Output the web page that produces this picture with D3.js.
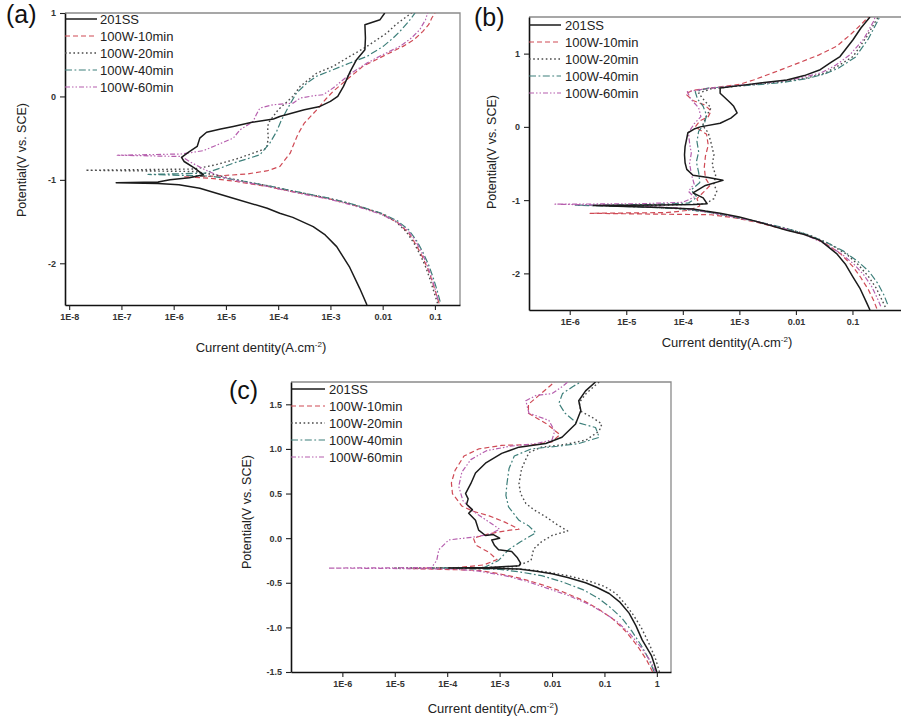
<!DOCTYPE html>
<html>
<head>
<meta charset="utf-8">
<script src="https://cdn.jsdelivr.net/npm/d3@7/dist/d3.min.js"></script>
<style>
  html, body { margin: 0; padding: 0; background: #fff; }
  svg { display: block; font-family: "Liberation Sans", Arial, sans-serif; }
</style>
</head>
<body>
<svg id="fig" width="901" height="719"></svg>
<script>
// Polarization curves, 3 panels. Points are [log10(current density A/cm2), potential V vs SCE],
// listed cathodic end -> corrosion spike -> anodic end.
const seriesNames = ["201SS", "100W-10min", "100W-20min", "100W-40min", "100W-60min"];

// ---- panel (a)
const a201 = [[-2.30,-2.50],[-2.44,-2.30],[-2.63,-2.05],[-2.88,-1.80],[-3.10,-1.66],[-3.33,-1.56],[-3.72,-1.45],[-3.97,-1.40],[-4.21,-1.34],[-4.86,-1.22],[-5.5,-1.10],[-5.9,-1.06],[-6.3,-1.045],
  [-7.10,-1.035],
  [-6.3,-1.025],[-6.07,-1.0],[-5.7,-0.975],[-5.43,-0.94],[-5.60,-0.86],[-5.80,-0.78],[-5.85,-0.73],[-5.72,-0.67],[-5.55,-0.60],[-5.50,-0.50],[-5.37,-0.43],[-5.1,-0.39],[-4.86,-0.36],[-4.5,-0.31],[-4.09,-0.27],[-3.97,-0.24],[-3.5,-0.16],[-3.2,-0.12],[-3.0,-0.06],[-2.86,0.0],[-2.75,0.12],[-2.62,0.30],[-2.50,0.44],[-2.34,0.56],[-2.33,0.70],[-2.34,0.86],[-2.05,0.92],[-1.96,1.0]];
const a10 = [[-0.92,-2.48],[-0.98,-2.36],[-1.06,-2.20],[-1.14,-2.06],[-1.24,-1.92],[-1.36,-1.78],[-1.50,-1.64],[-1.70,-1.52],[-2.0,-1.41],[-2.3,-1.35],[-2.63,-1.29],[-3.0,-1.23],[-3.58,-1.16],[-4.2,-1.08],[-4.8,-1.02],[-5.3,-0.98],
  [-5.8,-0.965],
  [-5.2,-0.955],[-4.6,-0.93],[-4.2,-0.89],[-3.97,-0.84],[-3.77,-0.68],[-3.72,-0.60],[-3.62,-0.45],[-3.50,-0.32],[-3.26,-0.16],[-3.10,-0.04],[-2.95,0.06],[-2.65,0.22],[-2.38,0.36],[-2.0,0.48],[-1.61,0.60],[-1.40,0.68],[-1.23,0.78],[-1.12,0.86],[-1.06,0.94],[-1.0,1.0]];
const a20 = [[-0.95,-2.48],[-1.02,-2.34],[-1.10,-2.18],[-1.18,-2.04],[-1.28,-1.90],[-1.40,-1.76],[-1.55,-1.62],[-1.75,-1.50],[-2.05,-1.40],[-2.35,-1.34],[-2.65,-1.28],[-3.05,-1.22],[-3.6,-1.15],[-4.2,-1.07],[-4.8,-1.00],[-5.2,-0.94],[-5.6,-0.90],
  [-7.69,-0.885],
  [-5.6,-0.87],[-5.2,-0.82],[-4.8,-0.75],[-4.48,-0.68],[-4.22,-0.62],[-4.19,-0.50],[-4.20,-0.40],[-4.19,-0.32],[-4.0,-0.16],[-3.72,0.0],[-3.58,0.12],[-3.26,0.28],[-2.95,0.36],[-2.63,0.48],[-2.30,0.60],[-1.92,0.76],[-1.75,0.86],[-1.45,1.0]];
const a40 = [[-0.90,-2.46],[-0.96,-2.32],[-1.04,-2.16],[-1.12,-2.02],[-1.22,-1.88],[-1.34,-1.74],[-1.50,-1.60],[-1.72,-1.49],[-2.02,-1.40],[-2.32,-1.34],[-2.64,-1.28],[-3.02,-1.22],[-3.58,-1.15],[-4.2,-1.07],[-4.8,-1.00],[-5.3,-0.955],
  [-6.49,-0.935],
  [-5.4,-0.92],[-5.11,-0.86],[-4.86,-0.80],[-4.35,-0.70],[-4.16,-0.56],[-4.03,-0.42],[-3.95,-0.30],[-3.85,-0.18],[-3.78,-0.10],[-3.65,0.04],[-3.45,0.16],[-3.27,0.24],[-2.95,0.32],[-2.63,0.40],[-2.30,0.48],[-1.99,0.60],[-1.80,0.70],[-1.67,0.78],[-1.50,0.90],[-1.38,1.0]];
const a60 = [[-0.94,-2.44],[-1.00,-2.30],[-1.08,-2.14],[-1.16,-2.0],[-1.26,-1.86],[-1.38,-1.72],[-1.53,-1.60],[-1.74,-1.50],[-2.04,-1.41],[-2.34,-1.35],[-2.66,-1.29],[-3.04,-1.23],[-3.6,-1.16],[-4.2,-1.08],[-4.8,-1.01],[-5.1,-0.96],[-5.4,-0.88],[-5.7,-0.78],[-5.85,-0.72],
  [-7.08,-0.705],
  [-5.85,-0.69],[-5.43,-0.65],[-5.24,-0.60],[-4.86,-0.50],[-4.73,-0.40],[-4.48,-0.30],[-4.42,-0.22],[-4.35,-0.14],[-4.10,-0.10],[-3.71,-0.08],[-3.58,-0.02],[-3.3,0.01],[-3.14,0.02],[-2.95,0.10],[-2.60,0.28],[-2.30,0.40],[-2.0,0.50],[-1.67,0.60],[-1.45,0.70],[-1.29,0.80],[-1.18,0.92],[-1.14,1.0]];

// ---- panel (b)
const b201 = [[-0.69,-2.50],[-0.75,-2.40],[-0.87,-2.20],[-0.99,-2.05],[-1.12,-1.88],[-1.28,-1.73],[-1.57,-1.55],[-1.85,-1.47],[-2.16,-1.41],[-2.75,-1.28],[-3.0,-1.23],[-3.34,-1.18],[-3.6,-1.15],[-3.82,-1.12],[-4.4,-1.10],[-5.16,-1.085],
  [-5.58,-1.075],
  [-5.0,-1.07],[-4.4,-1.065],[-3.8,-1.06],[-3.57,-1.05],[-3.64,-0.97],[-3.82,-0.90],[-3.6,-0.80],[-3.29,-0.73],[-3.55,-0.69],[-3.82,-0.66],[-3.93,-0.58],[-3.96,-0.49],[-3.97,-0.38],[-3.96,-0.27],[-3.91,-0.08],[-3.80,-0.03],[-3.69,0.0],[-3.34,0.05],[-3.15,0.12],[-3.04,0.19],[-3.10,0.28],[-3.16,0.33],[-3.34,0.46],[-3.34,0.53],[-2.93,0.57],[-2.63,0.60],[-2.16,0.64],[-1.85,0.70],[-1.57,0.78],[-1.38,0.88],[-1.22,0.96],[-0.99,1.19],[-0.85,1.35],[-0.69,1.5]];
const b10 = [[-0.57,-2.48],[-0.62,-2.38],[-0.72,-2.22],[-0.85,-2.06],[-1.0,-1.90],[-1.2,-1.74],[-1.5,-1.58],[-1.8,-1.48],[-2.2,-1.40],[-2.7,-1.30],[-3.1,-1.24],[-3.5,-1.20],
  [-5.64,-1.18],
  [-4.3,-1.17],[-3.9,-1.14],[-3.7,-1.08],[-3.75,-0.98],[-3.62,-0.88],[-3.52,-0.80],[-3.6,-0.70],[-3.62,-0.55],[-3.6,-0.40],[-3.55,-0.25],[-3.58,-0.10],[-3.78,0.0],[-3.70,0.08],[-3.55,0.14],[-3.50,0.22],[-3.62,0.30],[-3.82,0.36],[-3.95,0.45],[-3.82,0.50],[-3.4,0.54],[-3.0,0.58],[-2.75,0.64],[-2.4,0.74],[-1.93,0.88],[-1.6,0.98],[-1.28,1.10],[-1.05,1.25],[-0.87,1.38],[-0.72,1.5]];
const b20 = [[-0.42,-2.46],[-0.48,-2.36],[-0.58,-2.20],[-0.72,-2.04],[-0.9,-1.88],[-1.1,-1.74],[-1.4,-1.60],[-1.75,-1.48],[-2.2,-1.38],[-2.7,-1.29],[-3.1,-1.23],[-3.5,-1.17],[-4.0,-1.12],[-4.6,-1.09],
  [-5.3,-1.08],
  [-4.4,-1.07],[-3.6,-1.05],[-3.45,-0.98],[-3.40,-0.88],[-3.45,-0.78],[-3.42,-0.66],[-3.48,-0.52],[-3.45,-0.38],[-3.5,-0.22],[-3.55,-0.08],[-3.65,0.02],[-3.58,0.15],[-3.5,0.26],[-3.62,0.36],[-3.72,0.46],[-3.5,0.52],[-3.0,0.56],[-2.6,0.59],[-2.2,0.62],[-1.8,0.67],[-1.5,0.73],[-1.28,0.82],[-0.99,0.96],[-0.75,1.23],[-0.57,1.47],[-0.54,1.5]];
const b40 = [[-0.38,-2.42],[-0.44,-2.30],[-0.55,-2.14],[-0.70,-1.98],[-0.9,-1.84],[-1.15,-1.70],[-1.45,-1.58],[-1.8,-1.47],[-2.2,-1.38],[-2.7,-1.29],[-3.1,-1.23],[-3.5,-1.17],[-4.0,-1.12],[-4.8,-1.09],
  [-5.9,-1.07],
  [-4.6,-1.06],[-3.9,-1.04],[-3.75,-0.96],[-3.85,-0.86],[-3.7,-0.76],[-3.72,-0.62],[-3.76,-0.48],[-3.72,-0.34],[-3.75,-0.2],[-3.72,-0.06],[-3.62,0.04],[-3.58,0.16],[-3.64,0.28],[-3.74,0.38],[-3.78,0.48],[-3.55,0.53],[-3.0,0.56],[-2.6,0.58],[-2.2,0.61],[-1.8,0.66],[-1.5,0.72],[-1.25,0.80],[-0.95,0.95],[-0.72,1.2],[-0.55,1.45],[-0.52,1.5]];
const b60 = [[-0.50,-2.45],[-0.56,-2.34],[-0.66,-2.18],[-0.80,-2.02],[-0.98,-1.87],[-1.2,-1.73],[-1.5,-1.59],[-1.82,-1.48],[-2.2,-1.39],[-2.7,-1.29],[-3.1,-1.23],[-3.5,-1.17],[-4.0,-1.11],[-4.8,-1.08],
  [-6.26,-1.055],
  [-4.8,-1.05],[-4.0,-1.03],[-3.8,-0.96],[-3.9,-0.88],[-3.8,-0.78],[-3.85,-0.64],[-3.88,-0.50],[-3.85,-0.36],[-3.88,-0.22],[-3.9,-0.08],[-3.8,0.04],[-3.68,0.14],[-3.72,0.26],[-3.86,0.38],[-3.92,0.48],[-3.6,0.52],[-3.1,0.56],[-2.7,0.59],[-2.3,0.62],[-1.9,0.67],[-1.55,0.74],[-1.3,0.84],[-1.05,0.98],[-0.8,1.2],[-0.62,1.45],[-0.6,1.5]];

// ---- panel (c)
const c201 = [[0.0,-1.50],[-0.1,-1.32],[-0.28,-1.14],[-0.40,-0.98],[-0.53,-0.84],[-0.7,-0.72],[-0.91,-0.62],[-1.15,-0.55],[-1.36,-0.50],[-1.7,-0.44],[-2.0,-0.40],[-2.3,-0.37],[-2.63,-0.345],[-3.2,-0.338],
  [-3.97,-0.335],
  [-3.2,-0.33],[-2.63,-0.31],[-2.60,-0.28],[-2.66,-0.22],[-2.77,-0.15],[-3.02,-0.13],[-3.10,-0.08],[-3.15,-0.02],[-3.0,0.0],[-3.12,0.04],[-3.27,0.03],[-3.40,0.09],[-3.46,0.20],[-3.59,0.28],[-3.52,0.32],[-3.63,0.38],[-3.60,0.44],[-3.65,0.50],[-3.55,0.61],[-3.46,0.73],[-3.27,0.84],[-2.96,0.95],[-2.63,1.02],[-2.12,1.06],[-1.81,1.13],[-1.55,1.28],[-1.45,1.43],[-1.49,1.54],[-1.36,1.65],[-1.17,1.75]];
const c10 = [[-0.08,-1.50],[-0.2,-1.36],[-0.38,-1.20],[-0.6,-1.04],[-0.85,-0.90],[-1.1,-0.80],[-1.4,-0.70],[-1.8,-0.60],[-2.2,-0.52],[-2.6,-0.45],[-3.0,-0.40],[-3.4,-0.36],
  [-4.75,-0.34],
  [-3.8,-0.33],[-3.3,-0.30],[-3.05,-0.24],[-3.2,-0.16],[-3.45,-0.08],[-3.5,0.0],[-3.2,0.05],[-2.8,0.09],[-2.63,0.10],[-2.9,0.18],[-3.2,0.25],[-3.5,0.30],[-3.72,0.36],[-3.9,0.50],[-3.92,0.62],[-3.85,0.76],[-3.68,0.92],[-3.4,1.00],[-2.96,1.04],[-2.31,1.05],[-2.0,1.08],[-1.85,1.16],[-2.1,1.28],[-2.45,1.40],[-2.45,1.50],[-2.25,1.60],[-2.05,1.70],[-1.95,1.75]];
const c20 = [[0.05,-1.50],[-0.02,-1.36],[-0.15,-1.18],[-0.3,-1.0],[-0.45,-0.86],[-0.6,-0.74],[-0.78,-0.62],[-1.0,-0.54],[-1.3,-0.48],[-1.7,-0.42],[-2.1,-0.38],[-2.5,-0.35],[-3.2,-0.34],
  [-5.0,-0.335],
  [-3.4,-0.33],[-2.7,-0.32],[-2.4,-0.25],[-2.35,-0.12],[-2.2,-0.04],[-2.0,0.03],[-1.7,0.08],[-1.9,0.15],[-2.12,0.24],[-2.35,0.32],[-2.5,0.39],[-2.6,0.50],[-2.63,0.61],[-2.58,0.78],[-2.44,0.96],[-2.2,1.02],[-1.75,1.05],[-1.35,1.10],[-1.1,1.20],[-1.05,1.28],[-1.25,1.36],[-1.45,1.42],[-1.48,1.52],[-1.35,1.62],[-1.2,1.70],[-1.1,1.75]];
const c40 = [[-0.05,-1.50],[-0.15,-1.36],[-0.3,-1.2],[-0.48,-1.04],[-0.66,-0.90],[-0.88,-0.78],[-1.1,-0.68],[-1.4,-0.58],[-1.8,-0.49],[-2.2,-0.42],[-2.6,-0.38],[-3.0,-0.35],
  [-4.3,-0.335],
  [-3.3,-0.33],[-3.02,-0.25],[-2.83,-0.13],[-2.6,-0.04],[-2.31,0.06],[-2.45,0.14],[-2.63,0.20],[-2.83,0.35],[-2.88,0.48],[-2.86,0.61],[-2.82,0.78],[-2.72,0.92],[-2.4,1.0],[-1.9,1.03],[-1.49,1.06],[-1.10,1.13],[-1.17,1.24],[-1.55,1.30],[-1.75,1.40],[-1.87,1.51],[-1.8,1.62],[-1.6,1.70],[-1.45,1.75]];
const c60 = [[-0.02,-1.50],[-0.12,-1.38],[-0.28,-1.24],[-0.5,-1.08],[-0.75,-0.94],[-1.0,-0.84],[-1.3,-0.74],[-1.7,-0.64],[-2.1,-0.56],[-2.5,-0.48],[-2.9,-0.42],[-3.4,-0.37],[-3.9,-0.345],
  [-6.27,-0.335],
  [-4.3,-0.33],[-4.2,-0.25],[-4.16,-0.13],[-3.97,-0.02],[-3.53,0.01],[-3.2,0.04],[-3.0,0.1],[-3.25,0.2],[-3.5,0.3],[-3.7,0.42],[-3.78,0.58],[-3.72,0.74],[-3.55,0.88],[-3.25,0.98],[-2.8,1.03],[-2.3,1.06],[-2.0,1.10],[-1.95,1.2],[-2.06,1.32],[-2.44,1.40],[-2.5,1.54],[-2.3,1.60],[-2.0,1.62],[-1.8,1.70],[-1.7,1.75]];

// axis ranges / ticks
const aXExp = [-8.08, -0.52], aY = [-2.5, 1], aYMajor = [-2, -1, 0, 1], aYMinor = [-2.5, -1.5, -0.5, 0.5];
const bXExp = [-6.72, 0], bY = [-2.5, 1.5], bYMajor = [-2, -1, 0, 1], bYMinor = [-2.5, -1.5, -0.5, 0.5, 1.5];
const cXExp = [-6.98, 0.27], cY = [-1.5, 1.75], cYMajor = [-1.5, -1.0, -0.5, 0.0, 0.5, 1.0, 1.5], cYMinor = [-1.25, -0.75, -0.25, 0.25, 0.75, 1.25, 1.75];

const colors = ["#1b1b1b", "#cf4a55", "#4a4a4a", "#3d7f7a", "#b65fae"];
const dashes = [null, "5,3", "1.6,2.6", "7,2.5,1.8,2.5", "5,2,1.5,2,1.5,2"];
const widths = [1.5, 1.2, 1.4, 1.2, 1.2];

const panels = [
  { tag: "(a)", tagX: 6, tagY: 23, box: [65, 460, 13, 305], xExp: aXExp, yDom: aY, yMajor: aYMajor, yMinor: aYMinor, yDec: 0,
    curves: [a201, a10, a20, a40, a60], leg: [65, 97, 100, 19, 17], yTitle: [22, 160], xTitle: [261, 347] },
  { tag: "(b)", tagX: 474, tagY: 26, box: [529, 909, 17, 310], xExp: bXExp, yDom: bY, yMajor: bYMajor, yMinor: bYMinor, yDec: 0,
    curves: [b201, b10, b20, b40, b60], leg: [529, 561, 565, 25, 17], yTitle: [492, 152], xTitle: [727, 342] },
  { tag: "(c)", tagX: 229, tagY: 399, box: [291, 671, 382, 672], xExp: cXExp, yDom: cY, yMajor: cYMajor, yMinor: cYMinor, yDec: 1,
    curves: [c201, c10, c20, c40, c60], leg: [291, 325, 329, 389, 17], yTitle: [247, 512], xTitle: [493, 708] }
];

const svg = d3.select("#fig");
const W = +svg.attr("width");
const fmtX = v => v >= 0.01 ? d3.format("~g")(v) : "1E" + Math.round(Math.log10(v));

panels.forEach((p, pi) => {
  const [x0, x1, y0, y1] = p.box;
  const x = d3.scaleLog().domain(p.xExp.map(e => 10 ** e)).range([x0, x1]);
  const y = d3.scaleLinear().domain(p.yDom).range([y1, y0]);
  const g = svg.append("g");

  g.append("clipPath").attr("id", "clip" + pi)
    .append("rect").attr("x", x0).attr("y", y0).attr("width", x1 - x0).attr("height", y1 - y0);

  // frame: thin gray top/right
  g.append("path").attr("d", `M${x0},${y0}H${x1}V${y1}`)
    .attr("fill", "none").attr("stroke", "#8a8a8a").attr("stroke-width", 1.3);

  // x axis ticks (labels only where they fit on the page)
  const lo = Math.ceil(p.xExp[0]), hi = Math.floor(p.xExp[1]);
  const decades = d3.range(lo, hi + 1).map(e => 10 ** e).filter(v => x(v) < W - 10);
  const minors = [];
  for (let e = Math.floor(p.xExp[0]); e <= hi; e++)
    for (let m = 2; m <= 9; m++) {
      const v = m * 10 ** e;
      if (Math.log10(v) > p.xExp[0] && Math.log10(v) < p.xExp[1]) minors.push(v);
    }
  const xg = g.append("g").attr("transform", `translate(0,${y1})`);
  xg.call(d3.axisBottom(x).tickValues(minors).tickSize(3).tickFormat("").tickSizeOuter(0));
  xg.call(d3.axisBottom(x).tickValues(decades).tickSize(5).tickPadding(4).tickFormat(fmtX).tickSizeOuter(0));

  const yg = g.append("g").attr("transform", `translate(${x0},0)`);
  yg.call(d3.axisLeft(y).tickValues(p.yMinor).tickSize(3).tickFormat("").tickSizeOuter(0));
  yg.call(d3.axisLeft(y).tickValues(p.yMajor).tickSize(5).tickPadding(4)
    .tickFormat(v => v.toFixed(p.yDec)).tickSizeOuter(0));

  [xg, yg].forEach(ax => {
    ax.selectAll("path.domain").attr("stroke", "#111").attr("stroke-width", 1.6);
    ax.selectAll("line").attr("stroke", "#222").attr("stroke-width", 1.1);
    ax.selectAll("text").attr("font-size", 9).attr("font-weight", "bold").attr("fill", "#333");
  });

  // curves (treated first, bare steel on top)
  const line = d3.line().x(d => x(10 ** d[0])).y(d => y(d[1]));
  const order = [1, 2, 3, 4, 0];
  g.append("g").attr("clip-path", `url(#clip${pi})`)
    .selectAll("path").data(order).join("path")
    .attr("d", i => line(p.curves[i]))
    .attr("fill", "none")
    .attr("stroke", i => colors[i])
    .attr("stroke-width", i => widths[i])
    .attr("stroke-dasharray", i => dashes[i])
    .attr("stroke-linejoin", "round");

  // legend
  const [lx0, lx1, tx, ly, dy] = p.leg;
  const lg = g.append("g").selectAll("g").data(seriesNames).join("g")
    .attr("transform", (d, i) => `translate(0,${ly + i * dy})`);
  lg.append("line").attr("x1", lx0).attr("x2", lx1)
    .attr("stroke", (d, i) => colors[i]).attr("stroke-width", (d, i) => widths[i])
    .attr("stroke-dasharray", (d, i) => dashes[i]);
  lg.append("text").attr("x", tx).attr("dy", "0.36em").attr("font-size", 13)
    .attr("fill", "#222").text(d => d);

  // titles
  g.append("text").attr("transform", `translate(${p.yTitle[0]},${p.yTitle[1]}) rotate(-90)`)
    .attr("text-anchor", "middle").attr("dy", "0.35em").attr("font-size", 12.5).attr("fill", "#222")
    .text("Potential(V vs. SCE)");
  const xt = g.append("text").attr("x", p.xTitle[0]).attr("y", p.xTitle[1]).attr("dy", "0.35em")
    .attr("text-anchor", "middle").attr("font-size", 13).attr("fill", "#222");
  xt.append("tspan").text("Current dentity(A.cm");
  xt.append("tspan").attr("font-size", 8).attr("dy", "-0.6em").text("-2");
  xt.append("tspan").attr("dy", "0.3em").text(")");

  g.append("text").attr("x", p.tagX).attr("y", p.tagY).attr("font-size", 25).attr("fill", "#111").text(p.tag);
});
</script>
</body>
</html>
